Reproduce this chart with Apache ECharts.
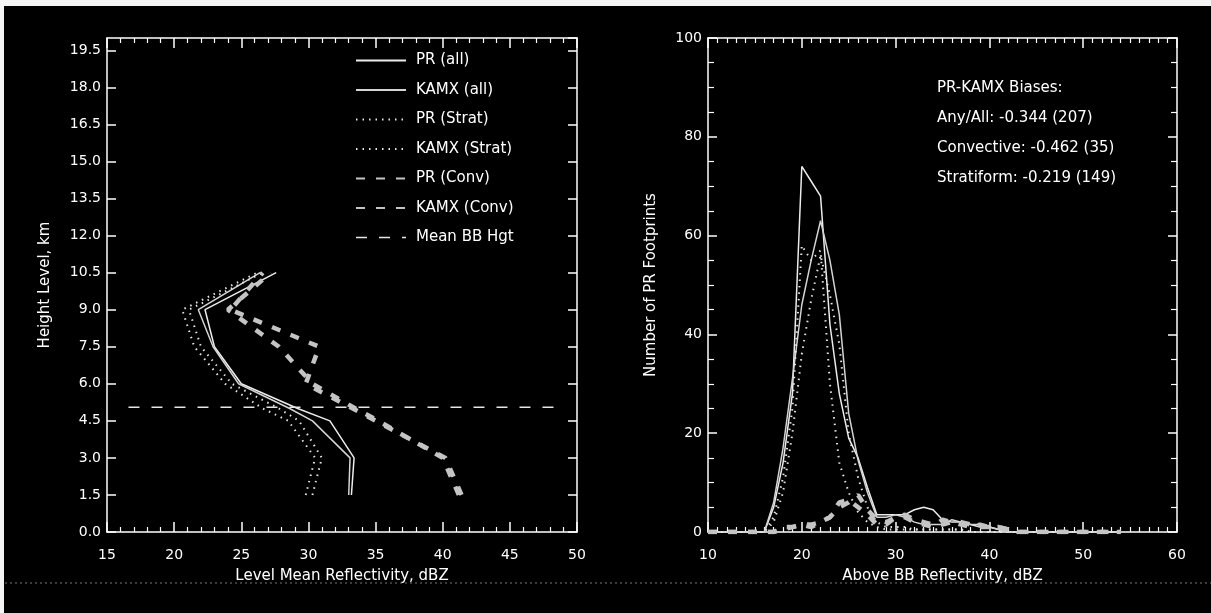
<!DOCTYPE html>
<html>
<head>
    <meta charset="utf-8">
    <title>PR vs KAMX reflectivity</title>
    <script src="https://cdn.jsdelivr.net/npm/echarts@6/dist/echarts.min.js"></script>
</head>
<body style="margin:0;background:#000;">
<div id="main" style="width:1211px;height:613px;"></div>
<script type="text/javascript">

    // left panel: level mean reflectivity (dBZ) at each height level (km)
    let heights = [1.5, 3.0, 4.5, 5.0, 6.0, 7.5, 9.0, 10.5];
    let prAll = [33.2, 33.4, 31.6, 29.2, 25.0, 23.0, 22.3, 27.6];
    let kamxAll = [33.0, 33.1, 30.3, 28.6, 24.8, 22.9, 21.8, 26.4];
    let prStrat = [30.3, 31.0, 29.3, 27.8, 24.3, 22.0, 21.1, 26.6];
    let kamxStrat = [29.8, 30.5, 28.5, 26.6, 23.8, 21.5, 20.6, 26.2];
    let prConv = [41.4, 40.2, 35.0, 33.3, 29.8, 30.8, 24.2, 26.6];
    let kamxConv = [41.2, 40.0, 35.2, 33.5, 30.3, 27.8, 24.0, 27.2];
    let bbHeight = 5.05;
    let bbSpan = [16.6, 48.4];

    // right panel: histogram of above-BB reflectivity, 1 dBZ bins
    let bins = [10, 11, 12, 13, 14, 15, 16, 17, 18, 19, 20, 21, 22, 23, 24, 25, 26, 27, 28, 29,
        30, 31, 32, 33, 34, 35, 36, 37, 38, 39, 40, 41, 42, 43, 44, 45, 46, 47, 48, 49,
        50, 51, 52, 53, 54];
    let cntPrAll = [0, 0, 0, 0, 0, 0, 0, 5, 14, 28, 74, 71, 68, 42, 28, 19, 15, 9, 3.5, 3.5,
        3.5, 3.5, 4.5, 5, 4.5, 2.5, 2, 2, 1.5, 1, 1, 0.5, 0, 0, 0, 0, 0, 0, 0, 0,
        0, 0, 0, 0, 0];
    let cntKamxAll = [0, 0, 0, 0, 0, 0, 0, 6, 17, 31, 46, 55, 63, 55, 44, 24, 14.5, 8, 3, 3,
        3.5, 3, 2, 1.5, 1.5, 1.5, 2.5, 2, 1.5, 1.5, 1, 0.5, 0, 0, 0, 0, 0, 0, 0, 0,
        0, 0, 0, 0, 0];
    let cntPrStrat = [0, 0, 0, 0, 0, 0, 0, 3, 11, 25, 58, 55, 57, 30, 14, 8, 4, 2, 1, 0.5,
        0.5, 0.5, 0.5, 0.5, 0.5, 0.5, 0.5, 0.5, 0, 0, 0, 0, 0, 0, 0, 0, 0, 0, 0, 0,
        0, 0, 0, 0, 0];
    let cntKamxStrat = [0, 0, 0, 0, 0, 0, 0, 2, 8, 20, 36, 47, 56, 48, 38, 20, 11, 5, 2, 1,
        1, 1, 0.5, 0.5, 0.5, 0.5, 0.5, 0.5, 0, 0, 0, 0, 0, 0, 0, 0, 0, 0, 0, 0,
        0, 0, 0, 0, 0];
    let cntPrConv = [0, 0, 0, 0, 0, 0, 0, 0, 0.5, 1, 1.5, 1.5, 2, 3, 5, 6, 7.5, 4.5, 2.5, 2,
        3, 3, 2, 1.5, 1, 2.5, 2, 1.5, 1, 1.5, 1, 1, 0.5, 0, 0, 0, 0, 0, 0, 0,
        0, 0, 0, 0, 0];
    let cntKamxConv = [0, 0, 0, 0, 0, 0, 0, 0, 1, 1, 1.5, 1, 2, 3, 6, 6.5, 5, 3.5, 1.5, 1.5,
        3, 3.5, 2.5, 2, 1.5, 1.5, 2, 2, 1.5, 1, 1, 1, 0.5, 0, 0, 0, 0, 0, 0, 0,
        0, 0, 0, 0, 0];

    let biasLines = ['PR-KAMX Biases:', 'Any/All: -0.344 (207)', 'Convective: -0.462 (35)', 'Stratiform: -0.219 (149)'];

    // styles
    let font = 'DejaVu Sans';
    let fg = '#ffffff';
    let solidA = {color: '#ececec', width: 1.5};
    let solidB = {color: '#d4d4d4', width: 1.5};
    let dotted = {color: '#e6e6e6', width: 2, type: [1.5, 5]};
    let conv = {color: '#c4c4c4', width: 4.5, type: [9, 11]};
    let bbStyle = {color: '#e6e6e6', width: 1.5, type: [11, 12]};

    function profile(vals) {
        return heights.map(function (h, i) { return [vals[i], h]; });
    }
    function hist(vals) {
        return bins.map(function (b, i) { return [b, vals[i]]; });
    }

    function xAx(grid, pos, min, max, step, split, name, showLabel) {
        return {
            type: 'value', gridIndex: grid, position: pos, min: min, max: max, interval: step,
            name: showLabel ? name : '', nameLocation: 'middle', nameGap: 37,
            nameTextStyle: {color: fg, fontSize: 15, fontFamily: font},
            axisLine: {show: true, onZero: false, lineStyle: {color: fg, width: 1.5}},
            axisTick: {show: true, inside: true, length: 10, lineStyle: {color: fg, width: 1.5}},
            minorTick: {show: true, splitNumber: split, length: 5, lineStyle: {color: fg, width: 1.2}},
            axisLabel: {show: showLabel, color: fg, fontSize: 14, fontFamily: font, margin: 16},
            splitLine: {show: false}
        };
    }
    function yAx(grid, pos, min, max, step, split, name, gap, showLabel, fmt) {
        return {
            type: 'value', gridIndex: grid, position: pos, min: min, max: max, interval: step,
            name: showLabel ? name : '', nameLocation: 'middle', nameGap: gap,
            nameTextStyle: {color: fg, fontSize: 15, fontFamily: font},
            axisLine: {show: true, onZero: false, lineStyle: {color: fg, width: 1.5}},
            axisTick: {show: true, inside: true, length: 9, lineStyle: {color: fg, width: 1.5}},
            minorTick: {show: split > 0, splitNumber: split || 5, length: 6, lineStyle: {color: fg, width: 1.2}},
            axisLabel: {show: showLabel, color: fg, fontSize: 14, fontFamily: font, margin: 6,
                showMaxLabel: max === 100, formatter: fmt},
            splitLine: {show: false}
        };
    }

    function line(name, data, style, xi, yi) {
        return {
            name: name, type: 'line', data: data, xAxisIndex: xi, yAxisIndex: yi,
            symbol: 'none', color: style.color, lineStyle: style, silent: true, z: 3
        };
    }

    let kmFmt = function (v) { return v.toFixed(1); };

    let option = {
        backgroundColor: '#000',
        animation: false,
        grid: [
            {left: 107, right: 634, top: 38, bottom: 81},
            {left: 708, right: 34, top: 38, bottom: 81}
        ],
        xAxis: [
            xAx(0, 'bottom', 15, 50, 5, 5, 'Level Mean Reflectivity, dBZ', true),
            xAx(0, 'top', 15, 50, 5, 5, '', false),
            xAx(1, 'bottom', 10, 60, 10, 10, 'Above BB Reflectivity, dBZ', true),
            xAx(1, 'top', 10, 60, 10, 10, '', false)
        ],
        yAxis: [
            yAx(0, 'left', 0, 20, 1.5, 0, 'Height Level, km', 54, true, kmFmt),
            yAx(0, 'right', 0, 20, 1.5, 0, '', 0, false),
            yAx(1, 'left', 0, 100, 20, 4, 'Number of PR Footprints', 49, true),
            yAx(1, 'right', 0, 100, 20, 4, '', 0, false)
        ],
        legend: {
            orient: 'vertical', left: 355, top: 53, padding: 0,
            itemWidth: 50, itemHeight: 14, itemGap: 14.5,
            itemStyle: {opacity: 0},
            textStyle: {color: fg, fontSize: 15, fontFamily: font, padding: [0, 0, 0, 5]},
            selectedMode: false,
            data: ['PR (all)', 'KAMX (all)', 'PR (Strat)', 'KAMX (Strat)', 'PR (Conv)', 'KAMX (Conv)',
                {name: 'Mean BB Hgt', lineStyle: {width: 1.5, type: [11, 12]}}]
        },
        graphic: [
            {type: 'rect', shape: {x: 0, y: 0, width: 1211, height: 6}, style: {fill: '#f4f4f4'}, z: 100},
            {type: 'rect', shape: {x: 0, y: 0, width: 4, height: 613}, style: {fill: '#f4f4f4'}, z: 100},
            {type: 'line', shape: {x1: 0, y1: 583, x2: 1211, y2: 583}, style: {stroke: '#777', lineWidth: 1, lineDash: [2, 3]}, z: 1}
        ].concat(biasLines.map(function (t, i) {
            return {
                type: 'text', left: 937, top: 81 + i * 29.8,
                style: {text: t, fill: fg, fontSize: 15, fontFamily: font}
            };
        })),
        series: [
            line('PR (all)', profile(prAll), solidA, 0, 0),
            line('KAMX (all)', profile(kamxAll), solidB, 0, 0),
            line('PR (Strat)', profile(prStrat), dotted, 0, 0),
            line('KAMX (Strat)', profile(kamxStrat), dotted, 0, 0),
            line('PR (Conv)', profile(prConv), conv, 0, 0),
            line('KAMX (Conv)', profile(kamxConv), conv, 0, 0),
            line('Mean BB Hgt', [[bbSpan[0], bbHeight], [bbSpan[1], bbHeight]], bbStyle, 0, 0),

            line('PR (all)', hist(cntPrAll), solidA, 2, 2),
            line('KAMX (all)', hist(cntKamxAll), solidB, 2, 2),
            line('PR (Strat)', hist(cntPrStrat), dotted, 2, 2),
            line('KAMX (Strat)', hist(cntKamxStrat), dotted, 2, 2),
            line('PR (Conv)', hist(cntPrConv), conv, 2, 2),
            line('KAMX (Conv)', hist(cntKamxConv), conv, 2, 2)
        ]
    };

    let myChart = echarts.init(document.getElementById('main'));
    myChart.setOption(option);
</script>
</body>
</html>
